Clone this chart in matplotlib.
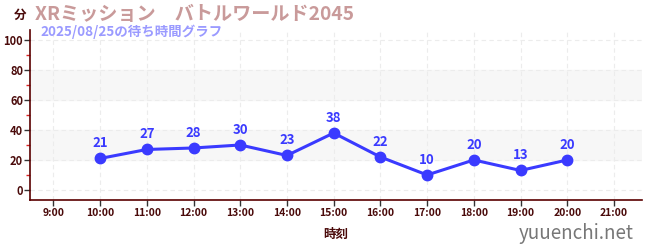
import matplotlib
matplotlib.use('Agg')
import matplotlib.pyplot as plt
from matplotlib.ticker import MultipleLocator

plt.rcParams['font.family'] = ['Noto Sans CJK JP', 'DejaVu Sans']

# data
hours = [10, 11, 12, 13, 14, 15, 16, 17, 18, 19, 20]
waits = [21, 27, 28, 30, 23, 38, 22, 10, 20, 13, 20]
tick_hours = list(range(9, 22))
tick_labels = ['%d:00' % h for h in tick_hours]

title = 'XRミッション　バトルワールド2045'
subtitle = '2025/08/25の待ち時間グラフ'

dark = '#4a0a0a'
blue = '#3a3aff'

fig = plt.figure(figsize=(6.5, 2.5), dpi=100)
ax = fig.add_axes([30 / 650, 50 / 250, 612 / 650, 170 / 250])

ax.set_xlim(8.5, 21.6)
ax.set_ylim(-6.7, 106.7)

# background bands
for lo, hi in [(20, 40), (60, 80)]:
    ax.axhspan(lo, hi, color='#f7f7f7', zorder=0)

ax.set_xticks(tick_hours)
ax.set_xticklabels(tick_labels)
ax.yaxis.set_major_locator(MultipleLocator(20))
ax.yaxis.set_minor_locator(MultipleLocator(10))
ax.grid(True, which='major', color='#ececec', linestyle=(0, (4, 3)), linewidth=0.8)

for s in ['top', 'right']:
    ax.spines[s].set_visible(False)
for s in ['left', 'bottom']:
    ax.spines[s].set_color('#5a0000')
    ax.spines[s].set_linewidth(1.2)

ax.tick_params(axis='both', which='major', colors='#333333', labelcolor=dark,
               length=4, width=1)
ax.tick_params(axis='x', labelsize=7.5, pad=2)
ax.tick_params(axis='y', labelsize=8, pad=1)
ax.tick_params(axis='y', which='minor', colors='#dd2222', length=3, width=1)
for lab in ax.get_xticklabels() + ax.get_yticklabels():
    lab.set_fontweight('bold')

ax.plot(hours, waits, color=blue, linewidth=2.2, marker='o', markersize=7.5,
        zorder=3)
for h, w in zip(hours, waits):
    ax.annotate(str(w), (h, w), xytext=(0, 6), textcoords='offset points',
                ha='center', va='bottom', color=blue, fontsize=9.5,
                fontweight='bold')

ax.set_xlabel('時刻', color=dark, fontsize=9, fontweight='bold', labelpad=7)

fig.text(20 / 650, 1 - 15 / 250, '分', color=dark, fontsize=9,
         fontweight='bold', ha='center', va='center')
fig.text(35 / 650, 1 - 14 / 250, title, color='#c99a9a', fontsize=13.8,
         fontweight='bold', ha='left', va='center')
fig.text(40 / 650, 1 - 32 / 250, subtitle, color='#9a9aff', fontsize=9.7,
         fontweight='bold', ha='left', va='center')
fig.text(634 / 650, 1 - 233 / 250, 'yuuenchi.net', color='#777777',
         fontsize=13.5, ha='right', va='center')

fig.savefig('out.png', dpi=100)
